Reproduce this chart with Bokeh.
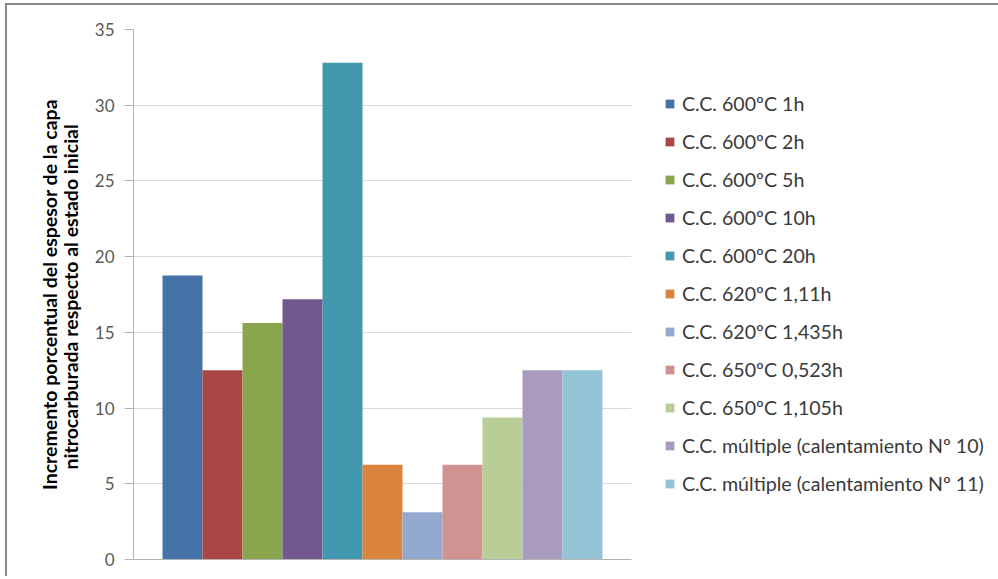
from bokeh.plotting import figure
from bokeh.models import ColumnDataSource, Range1d, FixedTicker
from bokeh.embed import file_html
from bokeh.resources import INLINE

# Treatments and the measured increase of the nitrocarburised layer thickness (%)
treatments = [
    "C.C. 600ºC 1h",
    "C.C. 600ºC 2h",
    "C.C. 600ºC 5h",
    "C.C. 600ºC 10h",
    "C.C. 600ºC 20h",
    "C.C. 620ºC 1,11h",
    "C.C. 620ºC 1,435h",
    "C.C. 650ºC 0,523h",
    "C.C. 650ºC 1,105h",
    "C.C. múltiple (calentamiento Nº 10)",
    "C.C. múltiple (calentamiento Nº 11)",
]
increase = [18.75, 12.5, 15.625, 17.1875, 32.8125, 6.25, 3.125, 6.25, 9.375, 12.5, 12.5]
y_ticks = [0, 5, 10, 15, 20, 25, 30, 35]

colors = [
    "#4572A7", "#AA4643", "#89A54E", "#71588F", "#4198AF", "#DB843D",
    "#93A9CF", "#D19392", "#B9CD96", "#A99BBD", "#93C4D6",
]

FONT = "Lato"

src = ColumnDataSource(dict(
    x=list(range(len(increase))),
    top=increase,
    label=treatments,
    color=colors,
))

p = figure(
    frame_width=498, frame_height=530,
    output_backend="svg", toolbar_location=None,
    x_range=Range1d(-1.225, 11.225), y_range=Range1d(0, 35),
    min_border_left=126, min_border_right=364,
    min_border_top=24, min_border_bottom=17,
    background_fill_color="white", border_fill_color="white",
    outline_line_color=None,
)
p.styles = {
    "margin-left": "5px", "margin-top": "3px",
    "border-left": "2px solid #8a8a8a", "border-top": "2px solid #8a8a8a",
}

p.vbar(x="x", top="top", width=1.0, bottom=0, color="color",
       line_color=None, source=src, legend_field="label")

# y axis
p.yaxis.ticker = FixedTicker(ticks=y_ticks)
p.yaxis.major_label_text_font = FONT
p.yaxis.major_label_text_font_size = "17px"
p.yaxis.major_label_text_color = "#595959"
p.yaxis.major_tick_in = 0
p.yaxis.major_tick_out = 9
p.yaxis.major_tick_line_color = "#b3b3b3"
p.yaxis.minor_tick_line_color = None
p.yaxis.axis_line_color = "#b3b3b3"
p.yaxis.major_label_standoff = 10
p.yaxis.axis_label = ("Incremento porcentual del espesor de la capa\n"
                      "nitrocarburada  respecto al estado inicial")
p.yaxis.axis_label_text_font = FONT
p.yaxis.axis_label_text_font_style = "bold"
p.yaxis.axis_label_text_font_size = "19.5px"
p.yaxis.axis_label_text_line_height = 0.9
p.yaxis.axis_label_text_color = "#000000"
p.yaxis.axis_label_standoff = 10

# x axis: only the baseline
p.xaxis.major_tick_line_color = None
p.xaxis.minor_tick_line_color = None
p.xaxis.major_label_text_font_size = "0px"
p.xaxis.axis_line_color = "#b3b3b3"
p.xaxis.ticker = FixedTicker(ticks=[])

p.xgrid.grid_line_color = None
p.ygrid.grid_line_color = "#d9d9d9"
p.ygrid.ticker = FixedTicker(ticks=y_ticks)

# legend in the right-hand panel
legend = p.legend[0]
p.center.remove(legend)
legend.location = (33, 64)
legend.border_line_color = None
legend.background_fill_alpha = 0
legend.padding = 0
legend.margin = 0
legend.glyph_width = 11
legend.glyph_height = 11
legend.label_height = 20
legend.spacing = 15
legend.label_standoff = 7
legend.label_text_font = FONT
legend.label_text_font_size = "19.6px"
legend.label_text_color = "#3a3a3a"
p.add_layout(legend, "right")

open("out.html", "w").write(file_html(p, INLINE))
